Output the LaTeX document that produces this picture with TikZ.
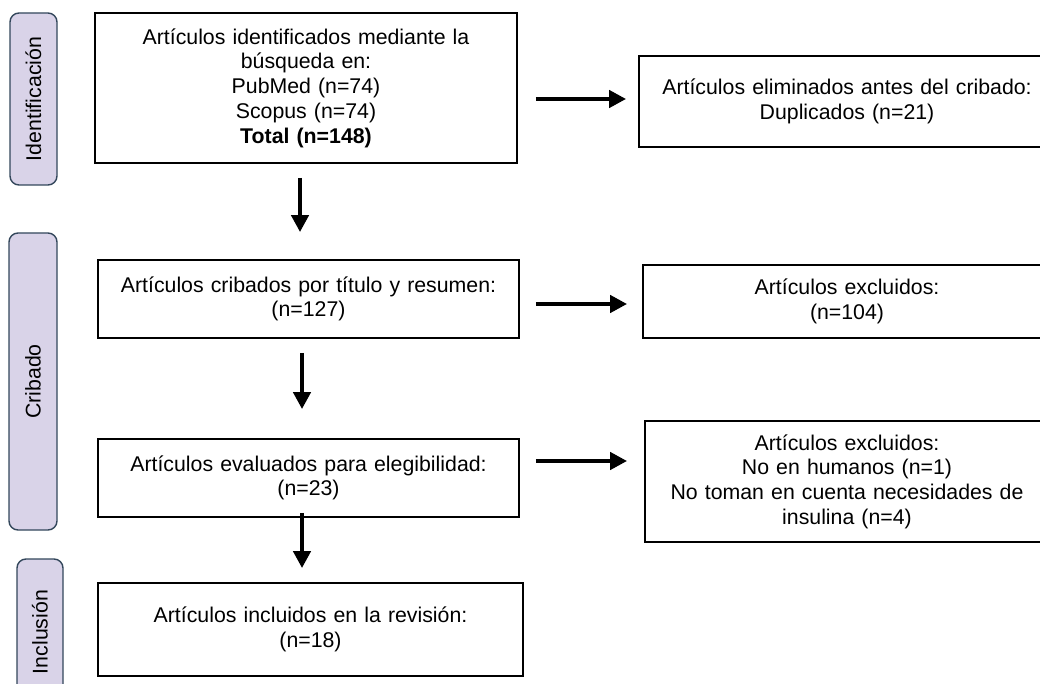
\documentclass[tikz,border=0pt]{standalone}
\usepackage{fontspec}
\setmainfont{Liberation Sans}
\usetikzlibrary{arrows.meta,calc}
\definecolor{sidefill}{HTML}{D9D3E8}
\definecolor{sideline}{HTML}{33475B}
\begin{document}
\begin{tikzpicture}[x=1pt,y=-1pt,
  every node/.style={font=\fontsize{21.3}{24.7}\selectfont, inner sep=0pt},
  mainbox/.style={draw=black, line width=1.8pt, align=center},
  sidebox/.style={draw=sideline, fill=sidefill, line width=1.4pt, rounded corners=9pt, rotate=90},
  arr/.style={line width=4.5pt, -{Triangle[length=17pt,width=17pt]}}]
\path[use as bounding box] (0,0) rectangle (1040,684);
\clip (0,0) rectangle (1040,684);

% phase labels
\node[sidebox, minimum width=172pt, minimum height=47pt] (s1) at (33.5,99) {Identificación};
\node[sidebox, minimum width=297pt, minimum height=48pt] (s2) at (33,381.5) {Cribado};
\node[sidebox, minimum width=146pt, minimum height=46pt] (s3) at (40,632) {Inclusión};

% main column
\node[mainbox, minimum width=422pt, minimum height=150pt, text width=410pt] (b1) at (306,88)
  {Artículos identificados mediante la\\ búsqueda en:\\ PubMed (n=74)\\ Scopus (n=74)\\ \textbf{Total (n=148)}};
\node[mainbox, minimum width=421pt, minimum height=78pt, text width=410pt] (b2) at (308.5,299)
  {Artículos cribados por título y resumen:\\ (n=127)};
\node[mainbox, minimum width=421pt, minimum height=78pt, text width=410pt] (b3) at (308.5,478)
  {Artículos evaluados para elegibilidad:\\ (n=23)};
\node[mainbox, minimum width=425pt, minimum height=93pt, text width=410pt] (b4) at (310.5,629.5)
  {Artículos incluidos en la revisión:\\ (n=18)};

% right column
\node[mainbox, minimum width=416pt, minimum height=91pt, text width=400pt] (r1) at (847,101.5)
  {Artículos eliminados antes del cribado:\\ Duplicados (n=21)};
\node[mainbox, minimum width=408pt, minimum height=73pt, text width=400pt] (r2) at (847,301.5)
  {Artículos excluidos:\\ (n=104)};
\node[mainbox, minimum width=404pt, minimum height=121pt, text width=400pt] (r3) at (847,481.5)
  {Artículos excluidos:\\ No en humanos (n=1)\\ No toman en cuenta necesidades de\\ insulina (n=4)};

% horizontal arrows
\coordinate (a1) at ([xshift=18pt,yshift=-11pt]b1.east);
\draw[arr, shorten >=12pt] (a1) -- (a1 -| r1.west);
\coordinate (a2) at ([xshift=16pt,yshift=-5pt]b2.east);
\draw[arr, shorten >=15pt] (a2) -- (a2 -| r2.west);
\coordinate (a3) at ([xshift=16pt,yshift=17pt]b3.east);
\draw[arr, shorten >=17pt] (a3) -- (a3 -| r3.west);

% vertical arrows
\coordinate (d1) at ([xshift=-6pt,yshift=-14pt]b1.south);
\draw[arr, shorten >=27pt] (d1) -- (d1 |- b2.north);
\coordinate (d2) at ([xshift=-6.5pt,yshift=-14pt]b2.south);
\draw[arr, shorten >=29pt] (d2) -- (d2 |- b3.north);
\coordinate (d3) at ([xshift=-6.5pt,yshift=5pt]b3.south);
\draw[arr, shorten >=14pt] (d3) -- (d3 |- b4.north);
\end{tikzpicture}
\end{document}
